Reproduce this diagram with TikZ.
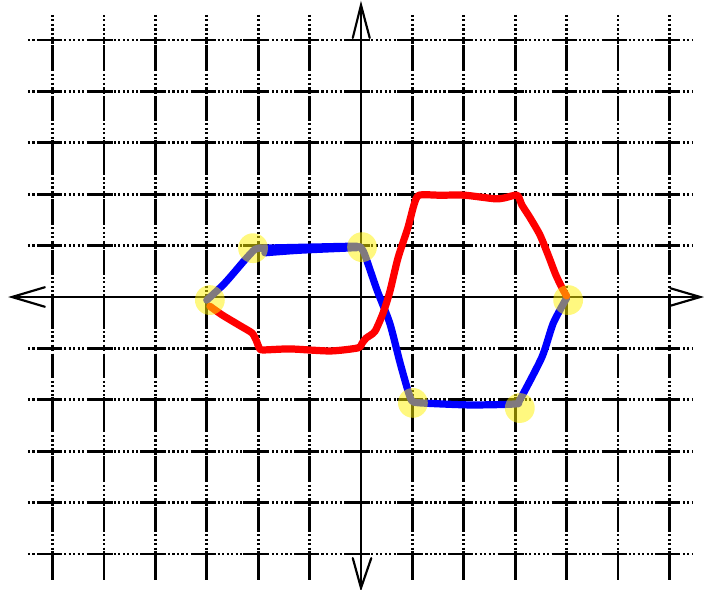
\documentclass[tikz,border=0pt]{standalone}
\begin{document}
\begin{tikzpicture}[x=1cm,y=1cm,
  gridline/.style={line width=1.6pt,black},
  dotline/.style={line width=1.5pt,black,dash pattern=on 1.2pt off 1.3pt},
  axisline/.style={line width=1.6pt,black},
  arrowline/.style={line width=1.2pt,black,line cap=round},
  bluepen/.style={line width=4pt,blue,line cap=round,line join=round},
  redpen/.style={line width=4pt,red,line cap=round,line join=round},
  marker/.style={fill=yellow,fill opacity=0.5,draw=none}]
\useasboundingbox (-7.023,-5.700) rectangle (6.673,5.778);
% dotted grid
\foreach \j in {-5,...,5} \draw[dotline] (-6.48,\j) -- (6.44,\j);
\foreach \i in {-6,...,6} \draw[dotline] (\i,5.49) -- (\i,-5.51);
% solid pieces of the grid
\foreach \j in {-5,...,5} \foreach \i in {-6,...,6} \draw[gridline] (\i-0.29,\j) -- (\i+0.175,\j);
\foreach \i in {-6,...,6} {
  \foreach \j in {-4,...,5} \draw[gridline] (\i,\j-0.1) -- (\i,\j-0.58);
  \foreach \j in {-5,...,5} \draw[gridline] (\i,\j+0.06) -- (\i,\j-0.06);
  \draw[gridline] (\i,-5.1) -- (\i,-5.51);
}
% axes
\draw[axisline] (-6.79,0) -- (6.6,0);
\draw[axisline] (0,5.68) -- (0,-5.66);
\draw[arrowline] (-6.15,0.19) -- (-6.79,0) -- (-6.15,-0.19);
\draw[arrowline] (6.02,0.17) -- (6.6,0) -- (6.02,-0.17);
\draw[arrowline] (-0.16,5.04) -- (0,5.68) -- (0.17,5.04);
\draw[arrowline] (-0.16,-5.08) -- (0,-5.66) -- (0.2,-5.08);
% blue path
\draw[bluepen] plot[smooth,tension=0.5] coordinates {(-3.0,-0.06) (-2.65,0.27) (-2.26,0.72) (-2.06,0.93) (-1.95,0.95)};
\draw[bluepen] (-1.95,0.95) -- (-0.08,0.99);
\draw[bluepen] plot[smooth,tension=0.5] coordinates {(-1.87,0.86) (-1.19,0.91) (-0.08,0.96)};
\draw[bluepen] plot[smooth,tension=0.4] coordinates {(-0.02,0.98) (0.04,0.9) (0.1,0.75) (0.31,0.14) (0.56,-0.51) (0.76,-1.28) (0.91,-1.81) (0.99,-2.02) (1.15,-2.06) (2.12,-2.1) (3.0,-2.08) (3.09,-2.0) (3.52,-1.17) (3.74,-0.51) (4.0,-0.02)};
% red path
\draw[redpen] plot[smooth,tension=0.4] coordinates {(-2.94,-0.18) (-2.70,-0.35) (-2.35,-0.56) (-2.12,-0.70) (-2.04,-0.84) (-1.98,-0.99) (-1.91,-1.03) (-1.38,-1.01) (-0.6,-1.05) (-0.06,-0.99) (0.02,-0.9) (0.1,-0.8) (0.27,-0.67) (0.43,-0.31) (0.56,0.1) (0.72,0.76) (0.91,1.34) (1.03,1.79) (1.13,1.98) (1.54,1.98) (2.02,1.98) (2.61,1.91) (2.8,1.93) (3.04,1.98) (3.13,1.79) (3.29,1.54) (3.48,1.21) (3.64,0.82) (3.79,0.43) (3.93,0.14) (4.0,0.02)};
% markers
\fill[marker] (-2.94,-0.06) circle (0.29);
\fill[marker] (-2.1,0.95) circle (0.29);
\fill[marker] (0.02,0.97) circle (0.29);
\fill[marker] (4.03,-0.06) circle (0.29);
\fill[marker] (1.01,-2.06) circle (0.29);
\fill[marker] (3.09,-2.16) circle (0.29);
\end{tikzpicture}
\end{document}
